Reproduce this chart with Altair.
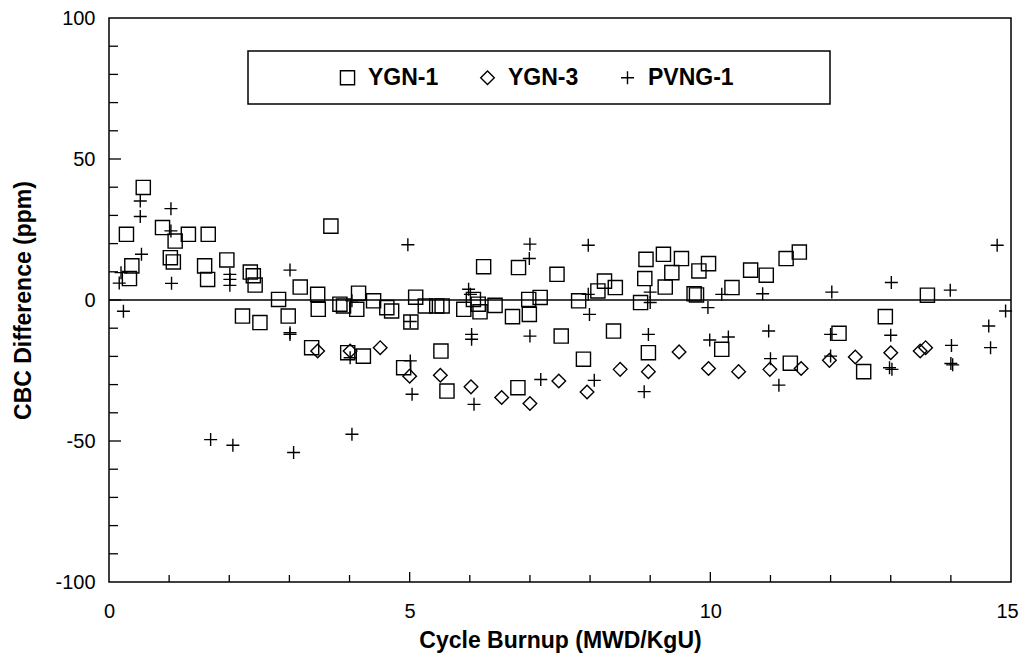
import altair as alt
import pandas as pd

# ---------------- data ----------------
series_names = ["YGN-1", "YGN-3", "PVNG-1"]

ygn1_x = [0.29, 0.38, 0.34, 0.57, 0.89, 1.10, 1.02, 1.07, 1.32, 1.65, 1.59, 1.64, 1.96,
          2.35, 2.40, 2.43, 2.22, 2.51, 3.69, 2.82, 2.98, 3.18, 3.47, 3.48, 3.37, 3.84,
          3.90, 3.97, 4.15, 4.12, 4.23, 4.40, 4.62, 4.70, 4.90, 5.02, 5.10, 5.26, 5.45,
          5.54, 5.52, 5.62, 6.23, 5.90, 6.06, 6.14, 6.17, 6.42, 6.71, 6.81, 6.80, 6.98,
          6.99, 7.17, 7.45, 7.52, 7.81, 7.89, 8.13, 8.24, 8.42, 8.39, 8.84, 8.91, 8.93,
          8.97, 9.22, 9.25, 9.36, 9.52, 9.81, 9.73, 9.77, 9.97, 10.36, 10.19, 10.67,
          10.93, 11.26, 11.48, 11.33, 12.14, 12.91, 12.55, 13.61]
ygn1_y = [23.3, 12.1, 7.6, 39.9, 25.7, 20.9, 15.0, 13.5, 23.3, 23.3, 12.1, 7.3, 14.2,
          9.9, 8.6, 5.3, -5.7, -8.0, 26.2, 0.2, -5.7, 4.6, 2.0, -3.3, -16.9, -1.5,
          -2.1, -18.7, 2.4, -3.3, -19.9, -0.3, -2.7, -3.9, -24.0, -7.8, 1.0, -2.1, -2.1,
          -2.1, -18.1, -32.3, 11.8, -3.3, 0.2, -1.5, -4.2, -1.9, -5.9, 11.5, -31.1, 0.2,
          -5.1, 0.9, 9.1, -12.8, -0.3, -21.0, 3.2, 6.7, 4.4, -11.0, -0.9, 7.6, 14.4,
          -18.7, 16.2, 4.6, 9.7, 14.7, 10.3, 2.2, 1.8, 12.9, 4.4, -17.5, 10.6,
          8.8, 14.7, 17.0, -22.4, -11.8, -5.9, -25.4, 1.7]

ygn3_x = [3.47, 4.01, 4.51, 5.00, 5.51, 6.02, 6.53, 7.00, 7.48, 7.95, 8.50, 8.97, 9.48,
          9.97, 10.47, 10.99, 11.51, 11.98, 12.41, 13.00, 13.49, 13.58]
ygn3_y = [-18.1, -18.1, -16.9, -27.0, -26.7, -30.8, -34.6, -36.7, -28.7, -32.6, -24.6,
          -25.4, -18.4, -24.3, -25.4, -24.6, -24.3, -21.4, -20.2, -18.7, -18.1, -16.9]

pvng_x = [0.20, 0.17, 0.24, 0.52, 0.52, 0.54, 1.03, 1.03, 1.04, 2.01, 2.01, 2.01, 1.69,
          2.06, 3.01, 3.01, 3.01, 3.07, 4.04, 4.01, 4.04, 4.97, 5.01, 5.01, 5.04, 5.98,
          6.01, 6.03, 6.03, 6.07, 7.00, 6.99, 7.00, 7.18, 7.97, 7.97, 7.99, 8.07, 8.90,
          8.97, 9.00, 9.00, 9.96, 9.99, 10.19, 10.30, 10.87, 10.97, 11.00, 11.14, 12.02,
          12.00, 12.00, 13.01, 13.00, 12.98, 13.02, 13.99, 14.01, 14.00, 14.03, 14.77,
          14.63, 14.66, 14.91]
pvng_y = [9.7, 6.0, -4.0, 35.1, 29.6, 16.2, 32.4, 24.5, 5.9, 9.1, 7.3, 5.2, -49.5,
          -51.5, 10.6, -11.6, -12.2, -54.1, -47.6, -20.5, -0.3, 19.6, -7.6, -21.6, -33.4, 3.8,
          2.0, -12.2, -13.9, -37.0, 19.8, 14.7, -12.8, -28.2, 19.4, 2.0, -5.1, -28.5, -32.5,
          -12.2, 2.8, -0.9, -2.7, -14.2, 2.0, -13.1, 2.2, -11.0, -20.8, -30.2, 2.8,
          -12.2, -19.9, 6.2, -12.5, -24.0, -24.6, 3.5, -16.1, -22.5, -23.0, 19.4,
          -9.2, -16.9, -3.9]

x_label_values = [0, 5, 10, 15]
y_label_values = [-100, -50, 0, 50, 100]
x_major_ticks = [5, 10]
x_minor_ticks = [1, 2, 3, 4, 6, 7, 8, 9, 11, 12, 13, 14]
y_major_ticks = [-50, 0, 50]
y_minor_ticks = [-90, -80, -70, -60, -40, -30, -20, -10, 10, 20, 30, 40, 60, 70, 80, 90]
zero_line = [0]

# ---------------- build ----------------
W, H = 902, 564
FONT = "Liberation Sans"
CROSS = "M-1,0L1,0M0,-1L0,1"

df = pd.concat([
    pd.DataFrame({"x": ygn1_x, "y": ygn1_y, "series": series_names[0]}),
    pd.DataFrame({"x": ygn3_x, "y": ygn3_y, "series": series_names[1]}),
    pd.DataFrame({"x": pvng_x, "y": pvng_y, "series": series_names[2]}),
], ignore_index=True)

xs = alt.Scale(domain=[0, 15], nice=False, zero=False)
ys = alt.Scale(domain=[-100, 100], nice=False, zero=False)

xaxis = alt.Axis(values=x_label_values, title="Cycle Burnup (MWD/KgU)",
                 labelPadding=19, titlePadding=8, labelFlush=False,
                 labelOffset={"condition": {"test": "datum.value == 15", "value": -4}, "value": 0},
                 labelExpr="'' + datum.value")
yaxis = alt.Axis(values=y_label_values, title="CBC Difference (ppm)",
                 labelPadding=14, titlePadding=19, labelFlush=False,
                 labelExpr="'' + datum.value")

legend = alt.Legend(
    orient="none", legendX=227, legendY=48, direction="horizontal",
    title=None, padding=0,
    labelFont=FONT, labelFontSize=23, labelFontWeight="bold", labelColor="black",
    labelOffset=9, columnPadding=37, labelLimit=400,
    symbolStrokeColor="black", symbolStrokeWidth=1.4,
)

points = alt.Chart(df).mark_point(filled=False, color="black", strokeWidth=1.4, opacity=1).encode(
    x=alt.X("x:Q", scale=xs, axis=xaxis),
    y=alt.Y("y:Q", scale=ys, axis=yaxis),
    shape=alt.Shape("series:N", scale=alt.Scale(domain=series_names,
                                                range=["square", "diamond", CROSS]),
                    legend=legend),
    size=alt.Size("series:N", scale=alt.Scale(domain=series_names, range=[200, 169, 156]),
                  legend=legend),
)

legend_box = alt.Chart(pd.DataFrame({"y": zero_line})).mark_rect(
    fill="white", stroke="black", strokeWidth=1.5).encode(
    x=alt.value(139), x2=alt.value(721), y=alt.value(33), y2=alt.value(86))

zero = alt.Chart(pd.DataFrame({"y": zero_line})).mark_rule(color="black", strokeWidth=1.5).encode(
    y=alt.Y("y:Q", scale=ys, axis=yaxis))

xt_major = alt.Chart(pd.DataFrame({"x": x_major_ticks})).mark_rule(color="black", strokeWidth=1.3).encode(
    x=alt.X("x:Q", scale=xs, axis=xaxis), y=alt.value(H), y2=alt.value(H - 10))
xt_minor = alt.Chart(pd.DataFrame({"x": x_minor_ticks})).mark_rule(color="black", strokeWidth=1.3).encode(
    x=alt.X("x:Q", scale=xs, axis=xaxis), y=alt.value(H), y2=alt.value(H - 7))
yt_major = alt.Chart(pd.DataFrame({"y": y_major_ticks})).mark_rule(color="black", strokeWidth=1.3).encode(
    y=alt.Y("y:Q", scale=ys, axis=yaxis), x=alt.value(0), x2=alt.value(12))
yt_minor = alt.Chart(pd.DataFrame({"y": y_minor_ticks})).mark_rule(color="black", strokeWidth=1.3).encode(
    y=alt.Y("y:Q", scale=ys, axis=yaxis), x=alt.value(0), x2=alt.value(9))

chart = alt.layer(points, legend_box, zero, xt_major, xt_minor, yt_major, yt_minor).properties(
    width=W, height=H,
    autosize=alt.AutoSizeParams(type="none"),
    padding={"left": 101, "top": 10, "right": 9, "bottom": 74},
    background="white",
).configure_view(
    stroke="black", strokeWidth=1.5,
).configure_axis(
    labelFont=FONT, labelFontSize=20, labelColor="black",
    titleFont=FONT, titleFontSize=23, titleFontWeight="bold", titleColor="black",
    domain=False, ticks=False, grid=False,
)

chart.save("out.html", embed_options={"renderer": "svg", "actions": False})
